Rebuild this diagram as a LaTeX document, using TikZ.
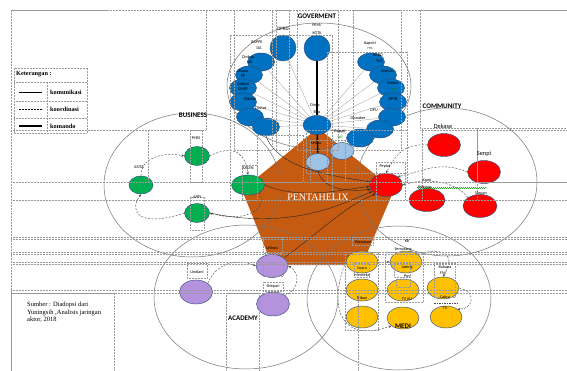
\documentclass[tikz,border=0pt]{standalone}
\usepackage{fontspec}
\setmainfont{Liberation Serif}
\newfontfamily\cb{Carlito}
\usetikzlibrary{arrows.meta,shapes.geometric,decorations.pathmorphing}
\definecolor{orng}{HTML}{C55A11}
\definecolor{bluf}{HTML}{0070C0}
\definecolor{blul}{HTML}{9DC3E6}
\definecolor{grnf}{HTML}{00B050}
\definecolor{redf}{HTML}{FF0000}
\definecolor{lavf}{HTML}{B592DE}
\definecolor{yelf}{HTML}{FFC000}
\definecolor{outl}{HTML}{2F4F7F}
\definecolor{boxg}{HTML}{9A9A9A}
\begin{document}
\begin{tikzpicture}[x=1pt,y=-1pt,
  nd/.style={ellipse,draw=outl,line width=0.45pt,inner sep=0pt},
  bn/.style={nd,fill=bluf,minimum width=27pt,minimum height=18pt},
  bt/.style={nd,fill=bluf,minimum width=26pt,minimum height=26pt},
  lbn/.style={nd,fill=blul,minimum width=24pt,minimum height=17pt},
  gn/.style={nd,fill=grnf,minimum width=25pt,minimum height=19pt},
  rn/.style={nd,fill=redf,minimum width=33pt,minimum height=23pt},
  ln/.style={nd,fill=lavf,minimum width=33pt,minimum height=24pt},
  yn/.style={nd,fill=yelf,minimum width=32pt,minimum height=22pt},
  grp/.style={draw=black!55,line width=0.5pt},
  tb/.style={draw=boxg,densely dotted,line width=0.5pt},
  fan/.style={draw=black!35,line width=0.35pt},
  kom/.style={draw=black!85,line width=0.4pt,-{Stealth[length=3pt,width=2.4pt]}},
  koor/.style={draw=black!70,dash pattern=on 2pt off 1.5pt,line width=0.45pt,-{Stealth[length=3pt,width=2.4pt]}},
  lb/.style={font=\cb\fontsize{4.2}{4.5}\selectfont,inner sep=0pt,text=black},
  lbg/.style={lb,text=green!50!black},
  lbs/.style={font=\cb\fontsize{5}{5.5}\selectfont,inner sep=0pt},
  lbm/.style={font=\cb\fontsize{6.3}{7}\selectfont,inner sep=0pt},
  gl/.style={font=\cb\bfseries\fontsize{7}{7}\selectfont,inner sep=0pt},
  leg/.style={font=\bfseries\fontsize{6.3}{7}\selectfont,inner sep=0pt,anchor=west},
]
\useasboundingbox (0,0) rectangle (567,371);
\fill[white] (0,0) rectangle (567,371);

% pentagon
\fill[orng] (318,128) -- (394,190) -- (362,265) -- (272,265) -- (242,190) -- cycle;

% group ellipses
\draw[grp] (319,86) ellipse [x radius=92pt,y radius=63pt];
\draw[grp] (192,185) ellipse [x radius=88pt,y radius=72pt];
\draw[grp] (447,182) ellipse [x radius=90pt,y radius=74pt];
\draw[grp] (246,297) ellipse [x radius=92pt,y radius=72pt];
\draw[grp] (399,298) ellipse [x radius=92pt,y radius=72pt];

% government nodes
\node[bt] (dprd) at (283,48) {};
\node[bt] (kota) at (317,48) {};
\node[bn] (bl1) at (261,62) {};
\node[bn] (bl2) at (249,75) {};
\node[bn] (bl3) at (243,88) {};
\node[bn] (bl4) at (243,102) {};
\node[bn] (bl5) at (250,117) {};
\node[bn] (bl6) at (266,127) {};
\node[bn] (br1) at (371,62) {};
\node[bn] (br2) at (383,75) {};
\node[bn] (br3) at (391,88) {};
\node[bn] (br4) at (393,102) {};
\node[bn] (br5) at (392,117) {};
\node[bn] (br6) at (380,129) {};
\node[bn] (br7) at (360,138) {};
\node[bn,minimum width=28pt,minimum height=19pt] (bc) at (317,125) {};
\node[lbn] (lb1) at (318,162) {};
\node[lbn] (lb2) at (342,151) {};

\foreach \n in {dprd,bl1,bl2,bl3,bl4,bl5,bl6,br1,br2,br3,br4,br5,br6,br7}
  \draw[fan] (bc) -- (\n);
\draw[line width=1.6pt] (kota) -- (bc);
\draw[line width=1.4pt,-{Stealth[length=4pt,width=4pt]}] (bc) -- (lb1);

% business
\node[gn,minimum width=24pt,minimum height=18pt] (asita) at (141,185) {};
\node[gn] (phri) at (197,156) {};
\node[gn,minimum width=33pt,minimum height=20pt] (kadin) at (248,185) {};
\node[gn] (appi) at (197,213) {};
\draw[koor] (asita.north) .. controls (140,160) and (160,151) .. (phri.west);
\draw[koor] (phri.east) .. controls (235,143) and (246,155) .. (kadin.north);
\draw[koor] (kadin.south east) .. controls (268,213) and (240,222) .. (appi.east);
\draw[koor] (appi.west) .. controls (140,228) and (128,212) .. (asita.south);

% community
\node[rn] (pep) at (386,185) {};
\node[rn] (dek) at (444,145) {};
\node[rn] (sen) at (484,172) {};
\node[rn,minimum width=36pt] (komi) at (427,200) {};
\node[rn,minimum width=34pt] (sin) at (480,206) {};
\draw[koor] (dek.west) .. controls (402,143) and (394,158) .. (pep.north);
\draw[koor] (sen.west) .. controls (440,160) and (420,172) .. (pep.north east);
\draw[koor] (sin.north west) .. controls (455,180) and (425,178) .. (pep.east);
\draw[green!60!black,decorate,decoration={snake,amplitude=0.6pt,segment length=2pt},line width=0.4pt] (417,188) -- (487,188);

% into pepiat (komunikasi)
\draw[kom] (bl6.south) .. controls (280,172) and (340,176) .. (pep.170);
\draw[kom] (kadin.east) .. controls (300,200) and (340,190) .. (pep.185);
\draw[kom] (lb1.south) .. controls (322,190) and (350,192) .. (pep.195);
\draw[kom] (appi.east) .. controls (290,230) and (340,205) .. (pep.205);
\draw[kom] (285,257) .. controls (320,232) and (345,206) .. (pep.220);

% academy
\node[ln,minimum height=23pt,minimum width=32pt] (udi) at (272,266) {};
\node[ln] (und) at (196,292) {};
\node[ln] (sti) at (273,304) {};
\draw[koor] (und.north east) .. controls (215,265) and (235,257) .. (udi.west);
\draw[koor] (sti.north east) .. controls (300,290) and (300,272) .. (udi.east);

% medi
\node[yn] (y1) at (362,262) {};
\node[yn] (y2) at (406,262) {};
\node[yn] (y3) at (362,290) {};
\node[yn] (y4) at (403,290) {};
\node[yn] (y5) at (443,288) {};
\node[yn] (y6) at (362,317) {};
\node[yn] (y7) at (403,318) {};
\node[yn] (y8) at (446,317) {};
\draw[koor] (y1.west) .. controls (330,300) and (335,345) .. (y7.south west);
\draw[koor] (y2.north east) .. controls (440,248) and (458,252) .. (y5.north);
\draw[koor] (y5.east) .. controls (478,292) and (472,310) .. (y8.north east);
\draw[koor] (y1.east) -- (y2.west);
\draw[dash pattern=on 1.5pt off 1pt,black!70,line width=0.4pt] (434,303) -- (457,303);

% dotted text-box frames
\draw[tb] (11,10) rectangle (600,400);
\draw[tb] (11,10) rectangle (206,130);
\draw[tb] (420,10) rectangle (600,130);
\draw[tb] (234,10) rectangle (272,150);
\draw[tb] (276,10) rectangle (289,150);
\draw[tb] (297,10) rectangle (338,150);
\draw[tb] (353,10) rectangle (401,150);
\draw[tb] (230,35) rectangle (332,200);
\draw[tb] (327,52) rectangle (407,182);
\draw[tb] (257,135) rectangle (303,182);
\draw[tb] (310,140) rectangle (345,182);
\draw[tb] (306,130) rectangle (407,173);
\draw[tb] (148,130) -- (148,182);
\draw[tb] (190,130) rectangle (202,182);
\draw[tb] (190,197) rectangle (204,230);
\draw[tb] (242,165) rectangle (257,200);
\draw[tb] (376,162) rectangle (405,200);
\draw[tb] (422,128) rectangle (477,200);
\draw[tb] (477,128) rectangle (600,182);
\foreach \yy in {182,200,237,239.5,252,254.5,262,264.5,290,293}
  \draw[tb] (11,\yy) -- (567,\yy);
\draw[tb] (11,293) rectangle (114,400);
\draw[tb] (226,293) rectangle (259,400);
\draw[tb] (358,293) -- (358,371);
\draw[tb] (187,263) rectangle (207,278);
\draw[tb] (263,237) rectangle (282,253);
\draw[tb] (263,262) rectangle (283,276);
\draw[tb] (263,282) rectangle (283,291);
\draw[tb] (345,252) rectangle (378,330);
\draw[tb] (385,252) rectangle (423,302);
\draw[tb] (352,237) rectangle (373,245);
\draw[tb] (354,263) rectangle (369,277);
\draw[tb] (394,263) rectangle (410,277);
\draw[tb] (396,279) rectangle (410,287);
\draw[tb] (434,263) rectangle (455,297);

% legend
\draw[tb] (14,68) rectangle (87,133);
\draw[tb] (14,82) -- (87,82);
\draw[tb] (14,101) -- (87,101);
\draw[tb] (14,118) -- (87,118);
\draw[tb] (47,82) -- (47,133);
\draw[line width=0.5pt] (19,92) -- (42,92);
\draw[line width=0.5pt,dash pattern=on 2pt off 1pt] (19,109) -- (42,109);
\draw[line width=1.4pt] (19,126) -- (42,126);
\node[leg] (lgt) at (16,74) {Keterangan :};
\node[leg] (lg1) at (50,92) {komunikasi};
\node[leg] (lg2) at (50,109) {koordinasi};
\node[leg] (lg3) at (50,126) {komando};

% source
\node[anchor=north west,inner sep=0pt,align=left,font=\fontsize{6.5}{7.5}\selectfont] (src) at (27,302)
  {Sumber : Diadopsi dari\\Yuningsih ,Analisis jaringan\\aktor, 2018};

% group titles
\node[gl] (tgov) at (317,16) {GOVERMENT};
\node[gl] (tbus) at (193,115) {BUSINESS};
\node[gl] (tcom) at (442,106) {COMMUNITY};
\node[gl] (taca) at (243,318) {ACADEMY};
\node[gl] (tmed) at (403,326) {MEDI};
\node[font=\fontsize{10}{10}\selectfont,text=white,inner sep=0pt] (tpen) at (318,197) {PENTAHELIX};

% gov labels
\node[lbs] at (283,29) {DPRD};
\node[lb] at (317,25) {PEM/};
\node[lb] at (317,33) {KOTA};
\node[lb] at (257,42) {BAPPE};
\node[lb] at (259,48) {DA};
\node[lb] at (248,57) {Dinkop};
\node[lb] at (250,62) {UK};
\node[lb] at (243,71) {Dispar};
\node[lb] at (243,76) {PP};
\node[lb] at (243,84) {Disbud};
\node[lb] at (243,89) {SMSP};
\node[lb] at (250,99) {Dikdas};
\node[lb] at (261,108) {Dishut};
\node[lb] at (370,43) {Kapolri};
\node[lbg] at (370,48) {res};
\node[lb] at (378,55) {BPBD};
\node[lb] at (379,61) {TNI};
\node[lb] at (387,71) {Dishub};
\node[lb] at (393,83) {Dinkes};
\node[lbg] at (394,89) {kes};
\node[lb] at (393,99) {BPTB};
\node[lb] at (374,110) {DPU};
\node[lb] at (358,118) {Disnaker};
\node[lb] at (315,105) {Dinas};
\node[lb] at (317,112) {Bup};
\node[lb] at (340,131) {Bupati};
\node[lbg] at (340,137) {wil};
\node[lb] at (316,143) {Sekda};

% business labels
\node[lb] at (196,138) {PHRI};
\node[lb] at (139,167) {ASITA};
\node[lb] at (248,168) {KADIN};
\node[lb] at (197,197) {APPI};

% community labels
\node[lbm] at (443,126) {Dekase};
\node[lbm] at (484,154) {Senpi};
\node[lb] at (385,166) {Pepiat};
\node[lb] at (427,180) {Komi};
\node[lb] at (425,187) {Pokmas};
\node[lb] at (481,193) {Sinpan};

% academy labels
\node[lb] at (272,248) {Udinus};
\node[lb] at (197,272) {Undiani};
\node[lb] at (273,286) {Stiepari};

% medi labels
\node[lb] at (363,242) {Wawasan};
\node[lb] at (407,241) {KR};
\node[lb] at (403,249) {Semarang};
\node[lb] at (362,268) {Suara};
\node[lb] at (362,275) {Merdeka};
\node[lb] at (407,268) {Jateng};
\node[lb] at (407,276) {Pos};
\node[lb] at (362,298) {Tribun};
\node[lb] at (407,299) {TV KU};
\node[lb] at (445,267) {Bahana};
\node[lb] at (443,273) {FM};
\node[lb] at (445,297) {Cakra};
\node[lb] at (445,308) {TV};
\end{tikzpicture}
\end{document}
